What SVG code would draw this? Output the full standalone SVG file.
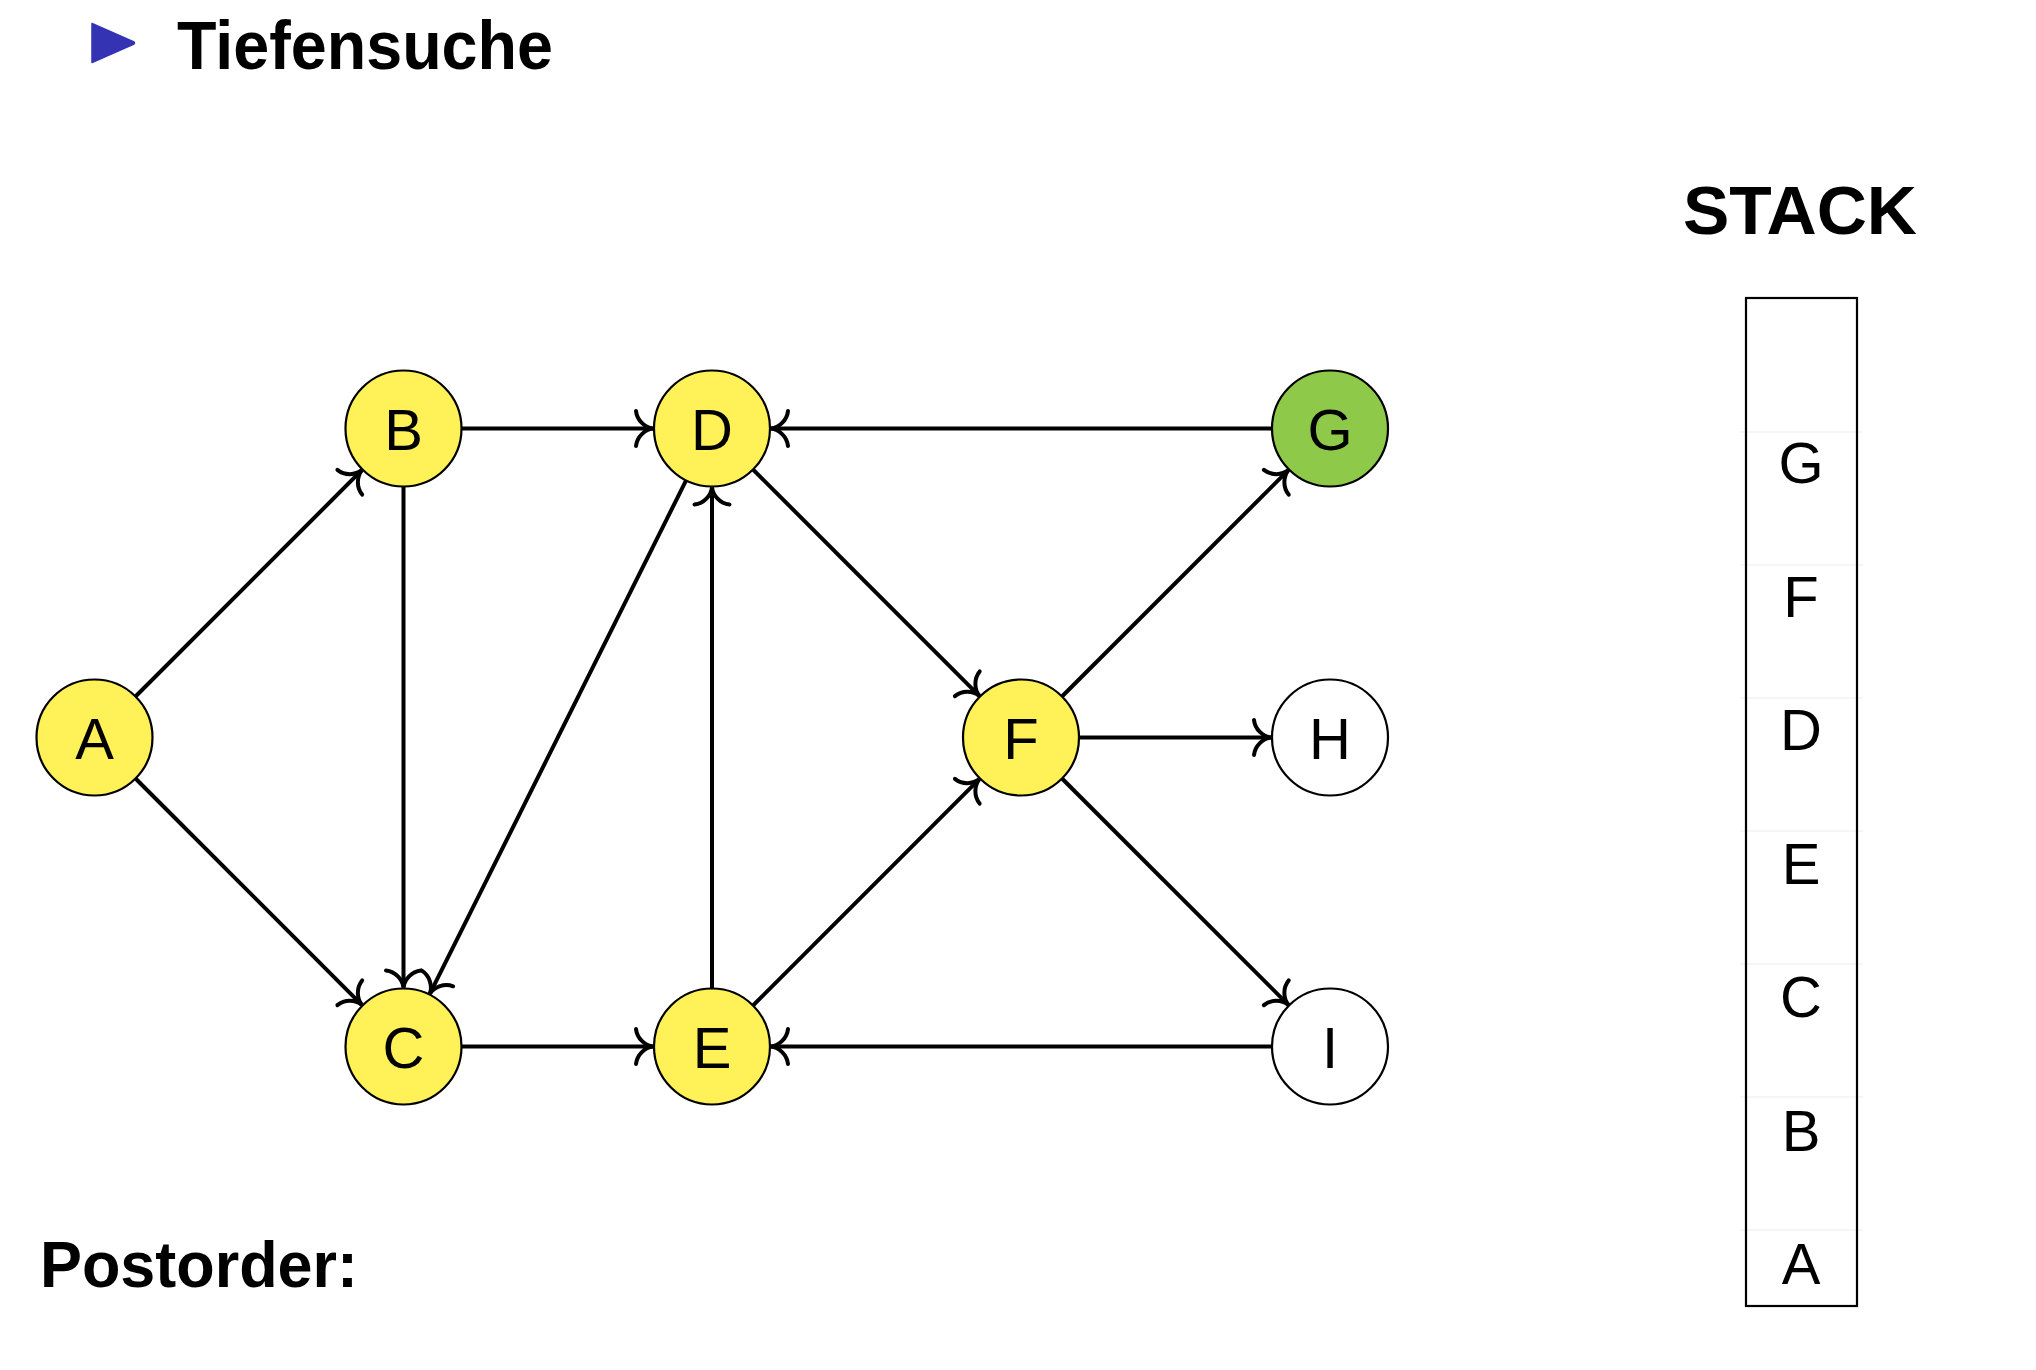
<svg xmlns="http://www.w3.org/2000/svg" width="2036" height="1370" viewBox="0 0 2036 1370">
<style>
.node circle{stroke:#000;stroke-width:2.2}
.y{fill:#fff157}
.g{fill:#8fc94a}
.w{fill:#fff}
.lbl{font-family:"Liberation Sans",Arial,sans-serif;font-size:58px;text-anchor:middle;fill:#000}
.edge{stroke:#000;stroke-width:4;fill:none;marker-end:url(#to)}
.bold{font-family:"Liberation Sans",Arial,sans-serif;font-weight:bold;fill:#000}
.div{stroke:#ededed;stroke-width:1}
</style>
<defs>
<marker id="to" markerUnits="userSpaceOnUse" viewBox="-20 -20 24 40" refX="0" refY="0" markerWidth="24" markerHeight="40" orient="auto" overflow="visible">
<path d="M-17,-17.5 C-16,-8 -8,-1 0,0 C-8,1 -16,8 -17,17.5" fill="none" stroke="#000" stroke-width="4" stroke-linecap="round"/>
</marker>
</defs>
<rect width="2036" height="1370" fill="#fff"/>
<g id="title">
<path d="M92,23.5 L134,42 Q135,43 134,44 L92,62.5 Z" fill="#3333b3" stroke="#3333b3" stroke-width="1.5" stroke-linejoin="round"/>
<text class="bold" x="177" y="69" font-size="68" textLength="376" lengthAdjust="spacingAndGlyphs">Tiefensuche</text>
</g>
<g id="connectors">
<line class="edge" x1="135.5" y1="696.5" x2="361.8" y2="470.2"/>
<line class="edge" x1="135.5" y1="778.5" x2="361.8" y2="1004.8"/>
<line class="edge" x1="461.5" y1="428.5" x2="653" y2="428.5"/>
<line class="edge" x1="403.5" y1="486.5" x2="403.5" y2="987.5"/>
<line class="edge" x1="686.1" y1="480.4" x2="429.9" y2="993.7"/>
<line class="edge" x1="1272" y1="428.5" x2="771" y2="428.5"/>
<line class="edge" x1="753" y1="469.5" x2="979.3" y2="695.8"/>
<line class="edge" x1="712" y1="988.5" x2="712" y2="487.5"/>
<line class="edge" x1="461.5" y1="1046.5" x2="653" y2="1046.5"/>
<line class="edge" x1="753" y1="1005.5" x2="979.3" y2="779.2"/>
<line class="edge" x1="1062" y1="696.5" x2="1288.3" y2="470.2"/>
<line class="edge" x1="1079" y1="737.5" x2="1271" y2="737.5"/>
<line class="edge" x1="1062" y1="778.5" x2="1288.3" y2="1004.8"/>
<line class="edge" x1="1272" y1="1046.5" x2="771" y2="1046.5"/>
</g>
<g id="node-A" class="node"><circle class="y" cx="94.5" cy="737.5" r="58"/><text class="lbl" x="94.5" y="758.5">A</text></g>
<g id="node-B" class="node"><circle class="y" cx="403.5" cy="428.5" r="58"/><text class="lbl" x="403.5" y="449.5">B</text></g>
<g id="node-C" class="node"><circle class="y" cx="403.5" cy="1046.5" r="58"/><text class="lbl" x="403.5" y="1067.5">C</text></g>
<g id="node-D" class="node"><circle class="y" cx="712" cy="428.5" r="58"/><text class="lbl" x="712" y="449.5">D</text></g>
<g id="node-E" class="node"><circle class="y" cx="712" cy="1046.5" r="58"/><text class="lbl" x="712" y="1067.5">E</text></g>
<g id="node-F" class="node"><circle class="y" cx="1021" cy="737.5" r="58"/><text class="lbl" x="1021" y="758.5">F</text></g>
<g id="node-G" class="node"><circle class="g" cx="1330" cy="428.5" r="58"/><text class="lbl" x="1330" y="449.5">G</text></g>
<g id="node-H" class="node"><circle class="w" cx="1330" cy="737.5" r="58"/><text class="lbl" x="1330" y="758.5">H</text></g>
<g id="node-I" class="node"><circle class="w" cx="1330" cy="1046.5" r="58"/><text class="lbl" x="1330" y="1067.5">I</text></g>
<g id="stack">
<text class="bold" x="1683" y="234" font-size="68" textLength="234" lengthAdjust="spacingAndGlyphs">STACK</text>
<line class="div" x1="1740" y1="432" x2="1863" y2="432"/>
<line class="div" x1="1740" y1="565" x2="1863" y2="565"/>
<line class="div" x1="1740" y1="698" x2="1863" y2="698"/>
<line class="div" x1="1740" y1="831" x2="1863" y2="831"/>
<line class="div" x1="1740" y1="964" x2="1863" y2="964"/>
<line class="div" x1="1740" y1="1097" x2="1863" y2="1097"/>
<line class="div" x1="1740" y1="1230" x2="1863" y2="1230"/>
<rect x="1746" y="298" width="111" height="1008" fill="none" stroke="#000" stroke-width="2.2"/>
<text class="lbl" x="1801" y="483">G</text>
<text class="lbl" x="1801" y="616.5">F</text>
<text class="lbl" x="1801" y="750">D</text>
<text class="lbl" x="1801" y="883.5">E</text>
<text class="lbl" x="1801" y="1017">C</text>
<text class="lbl" x="1801" y="1150.5">B</text>
<text class="lbl" x="1801" y="1284">A</text>
</g>
<g id="postorder">
<text class="bold" x="40" y="1287" font-size="65" textLength="318" lengthAdjust="spacingAndGlyphs">Postorder:</text>
</g>
</svg>
